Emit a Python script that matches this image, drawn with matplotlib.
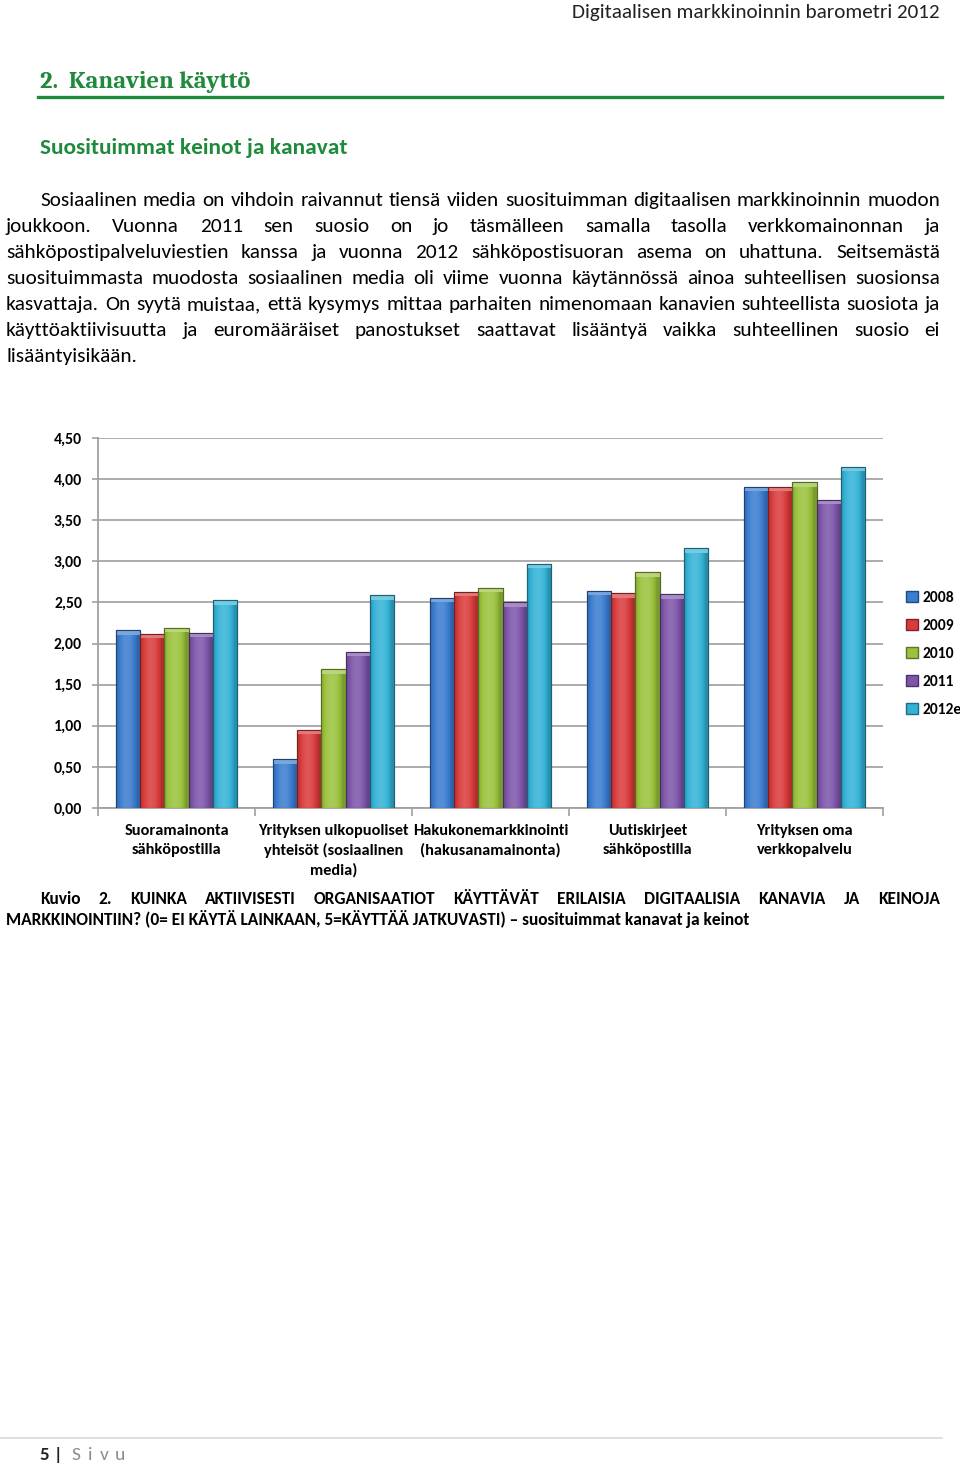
import numpy as np
import matplotlib
matplotlib.use("Agg")
import matplotlib.pyplot as plt
from matplotlib import font_manager
from matplotlib.patches import Patch, Rectangle
from matplotlib.ticker import FuncFormatter, FixedLocator
import matplotlib.colors as mcolors

# ---------------- data ----------------
categories = [
    "Suoramainonta\nsähköpostilla",
    "Yrityksen ulkopuoliset\nyhteisöt (sosiaalinen\nmedia)",
    "Hakukonemarkkinointi\n(hakusanamainonta)",
    "Uutiskirjeet\nsähköpostilla",
    "Yrityksen oma\nverkkopalvelu",
]
series_names = ["2008", "2009", "2010", "2011", "2012e"]
v2008 = [2.16, 0.59, 2.56, 2.64, 3.91]
v2009 = [2.12, 0.95, 2.63, 2.61, 3.91]
v2010 = [2.19, 1.69, 2.68, 2.87, 3.96]
v2011 = [2.13, 1.90, 2.50, 2.60, 3.75]
v2012e = [2.53, 2.59, 2.97, 3.16, 4.15]
series_values = [v2008, v2009, v2010, v2011, v2012e]
y_ticks = [0.0, 0.5, 1.0, 1.5, 2.0, 2.5, 3.0, 3.5, 4.0, 4.5]

header_text = "Digitaalisen markkinoinnin barometri 2012"
section_title = "2.  Kanavien käyttö"
subsection_title = "Suosituimmat keinot ja kanavat"
body_lines = [
    "Sosiaalinen media on vihdoin raivannut tiensä viiden suosituimman digitaalisen markkinoinnin muodon",
    "joukkoon. Vuonna 2011 sen suosio on jo täsmälleen samalla tasolla verkkomainonnan ja",
    "sähköpostipalveluviestien kanssa ja vuonna 2012 sähköpostisuoran asema on uhattuna. Seitsemästä",
    "suosituimmasta muodosta sosiaalinen media oli viime vuonna käytännössä ainoa suhteellisen suosionsa",
    "kasvattaja. On syytä muistaa, että kysymys mittaa parhaiten nimenomaan kanavien suhteellista suosiota ja",
    "käyttöaktiivisuutta ja euromääräiset panostukset saattavat lisääntyä vaikka suhteellinen suosio ei",
    "lisääntyisikään.",
]
caption_lines = [
    "Kuvio 2. KUINKA AKTIIVISESTI ORGANISAATIOT KÄYTTÄVÄT ERILAISIA DIGITAALISIA KANAVIA JA KEINOJA",
    "MARKKINOINTIIN? (0= EI KÄYTÄ LAINKAAN, 5=KÄYTTÄÄ JATKUVASTI) – suosituimmat kanavat ja keinot",
]
footer_page = "5 | "
footer_word = "Sivu"

# ---------------- styles ----------------
colors = ["#3A7CCF", "#D93A3A", "#9AC23C", "#7D55AA", "#33B2D6"]
GREEN = "#1F8A3C"


def pick(cands):
    for c in cands:
        try:
            font_manager.findfont(c, fallback_to_default=False)
            return c
        except Exception:
            pass
    return "DejaVu Sans"


SANS = pick(["Carlito", "Liberation Sans Narrow", "Lato", "Roboto"])
SERIF = pick(["Caladea", "Liberation Serif", "DejaVu Serif"])

W, H = 960, 1466
fig = plt.figure(figsize=(W / 100, H / 100), dpi=100)
renderer = fig.canvas.get_renderer()


def measure(text, size, family=SANS, weight="normal"):
    t = fig.text(0, 0, text, fontsize=size, family=family, weight=weight)
    w = t.get_window_extent(renderer).width
    t.remove()
    return w


def fit(text, target, family=SANS, weight="normal"):
    return 10.0 * target / measure(text, 10.0, family, weight)


def fx(px):
    return px / W


def fy(py):
    return 1 - py / H


def justify(line, x0, x1, base, size, family=SANS, weight="normal", color="black", just=True):
    words = line.split(" ")
    if not just or len(words) == 1:
        fig.text(fx(x0), fy(base), line, fontsize=size, family=family, weight=weight,
                 color=color, va="baseline", ha="left")
        return
    widths = [measure(w_, size, family, weight) for w_ in words]
    gap = (x1 - x0 - sum(widths)) / (len(words) - 1)
    x = x0
    for w_, wd in zip(words, widths):
        fig.text(fx(x), fy(base), w_, fontsize=size, family=family, weight=weight,
                 color=color, va="baseline", ha="left")
        x += wd + gap


# ---------------- page text ----------------
hs = fit(header_text, 370)
fig.text(fx(940), fy(18), header_text, fontsize=hs, family=SANS, color="#222222",
         ha="right", va="baseline")

ts = fit(section_title, 210, SERIF, "bold")
fig.text(fx(40), fy(88), section_title, fontsize=ts, family=SERIF, weight="bold",
         color=GREEN, ha="left", va="baseline")
fig.add_artist(plt.Line2D([fx(38), fx(942)], [fy(97), fy(97)], color=GREEN, lw=2.4))

ss = fit(subsection_title, 307, SANS, "bold")
fig.text(fx(40), fy(154), subsection_title, fontsize=ss, family=SANS, weight="bold",
         color=GREEN, ha="left", va="baseline")

bs = fit(body_lines[4], 930)
for i, line in enumerate(body_lines):
    base = 206 + 26 * i
    x0 = 40 if i == 0 else 6
    justify(line, x0, 940, base, bs, just=(i < len(body_lines) - 1))

cs = fit(caption_lines[1], 748, SANS, "bold")
justify(caption_lines[0], 40, 940, 904, cs, weight="bold")
justify(caption_lines[1], 6, 940, 925, cs, weight="bold", just=False)

# footer
fig.add_artist(plt.Line2D([fx(0), fx(942)], [fy(1438), fy(1438)], color="#DADADA", lw=1.2))
fig.text(fx(40), fy(1460), footer_page, fontsize=13.5, family=SANS, weight="bold",
         color="#222222", va="baseline")
xpos = 72
for ch in footer_word:
    fig.text(fx(xpos), fy(1460), ch, fontsize=14, family=SANS, color="#8C8C8C",
             va="baseline")
    xpos += measure(ch, 14) + 7

# ---------------- chart ----------------
ax = fig.add_axes([fx(98), fy(808), fx(883) - fx(98), fy(438) - fy(808)])
n = len(series_names)
bw = 0.154
x = np.arange(len(categories))
bars_all = []
for k, (name, vals, col) in enumerate(zip(series_names, series_values, colors)):
    offs = (k - (n - 1) / 2) * bw
    edge = tuple(np.array(mcolors.to_rgb(col)) * 0.55)
    bars = ax.bar(x + offs, vals, width=bw, color=col, edgecolor=edge, linewidth=0.8,
                  zorder=3, label=name)
    bars_all.append((bars, col))

# gradient shading + bevel top on each bar
tt = np.linspace(0, 1, 64)
prof = 0.80 + 0.32 * np.sin(np.pi * np.clip(tt * 1.15, 0, 1)) ** 0.7
for bars, col in bars_all:
    rgb = np.array(mcolors.to_rgb(col))
    img = np.zeros((1, len(tt), 3))
    for j, p in enumerate(prof):
        if p <= 1:
            img[0, j] = rgb * p
        else:
            img[0, j] = rgb + (1 - rgb) * (p - 1) * 1.2
    img = np.clip(img, 0, 1)
    light = np.clip(rgb + (1 - rgb) * 0.35, 0, 1)
    for b in bars:
        bx, by, bwid, bh = b.get_x(), b.get_y(), b.get_width(), b.get_height()
        im = ax.imshow(img, extent=[bx, bx + bwid, by, by + bh], aspect="auto",
                       zorder=3.5, interpolation="bilinear")
        im.set_clip_path(b)
        cap = min(0.055, bh)
        ax.add_patch(Rectangle((bx, by + bh - cap), bwid, cap, facecolor=light,
                               edgecolor="none", zorder=3.6, alpha=0.9))
        ax.add_patch(Rectangle((bx, by), bwid, bh, facecolor="none",
                               edgecolor=b.get_edgecolor(), linewidth=0.8, zorder=3.7))

ax.set_xlim(-0.5, len(categories) - 0.5)
ax.set_ylim(0, 4.5)
ax.set_yticks(y_ticks)
ax.yaxis.set_major_formatter(FuncFormatter(lambda v, p: f"{v:.2f}".replace(".", ",")))
ax.grid(axis="y", color="#A6A6A6", linewidth=1.3, zorder=0)
ax.set_axisbelow(True)
for s in ["top", "right"]:
    ax.spines[s].set_visible(False)
for s in ["left", "bottom"]:
    ax.spines[s].set_color("#A0A0A0")
    ax.spines[s].set_linewidth(1.3)

tick_size = fit("4,50", 28, SANS, "bold")
ax.tick_params(axis="y", length=4, width=1.2, color="#A0A0A0", pad=7.5,
               labelsize=tick_size)
for lab in ax.get_yticklabels():
    lab.set_fontweight("bold")
    lab.set_family(SANS)

ax.set_xticks(x)
cat_size = fit("Hakukonemarkkinointi", 155, SANS, "bold")
ax.set_xticklabels(categories, fontsize=cat_size, fontweight="bold", family=SANS,
                   linespacing=1.42)
ax.tick_params(axis="x", which="major", length=0, pad=11.5)
ax.xaxis.set_minor_locator(FixedLocator(np.arange(-0.5, len(categories), 1.0)))
ax.tick_params(axis="x", which="minor", length=6, width=1.2, color="#A0A0A0",
               direction="out")

leg_size = fit("2012e", 39, SANS, "bold")
handles = [Patch(facecolor=c, edgecolor=tuple(np.array(mcolors.to_rgb(c)) * 0.6))
           for c in colors]
leg = fig.legend(handles, series_names, loc="center left",
                 bbox_to_anchor=(fx(906), fy(654)), frameon=False,
                 handlelength=0.75, handleheight=0.75, handletextpad=0.3,
                 labelspacing=0.9, borderpad=0, borderaxespad=0,
                 prop={"family": SANS, "weight": "bold", "size": leg_size})

fig.savefig("out.png", dpi=100)
